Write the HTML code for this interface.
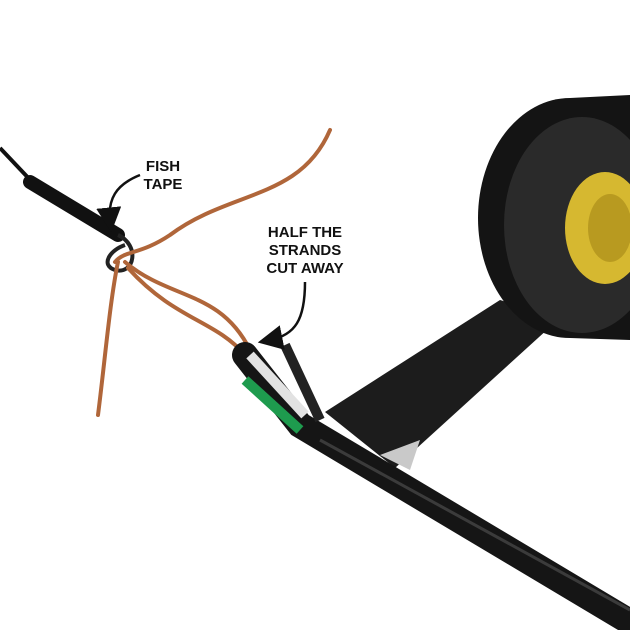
<!DOCTYPE html>
<html><head><meta charset="utf-8"><style>
html,body{margin:0;padding:0;background:#fff;width:630px;height:630px;overflow:hidden}
svg{display:block}
text{font-family:"Liberation Sans",Arial,sans-serif;font-weight:bold;font-size:15px;fill:#111}
</style></head><body>
<svg width="630" height="630" viewBox="0 0 630 630" xmlns="http://www.w3.org/2000/svg">
<defs>
<marker id="ah" markerWidth="10" markerHeight="10" refX="5" refY="5" orient="auto"><path d="M0,0 L10,5 L0,10 z" fill="#111"/></marker>
</defs>
<rect width="630" height="630" fill="#fff"/>
<!-- tape strip -->
<polygon points="325,412 500,300 560,318 395,468" fill="#1c1c1c"/>
<polygon points="380,455 420,440 410,470" fill="#c9c9c9"/>
<!-- tape roll -->
<ellipse cx="570" cy="218" rx="92" ry="120" fill="#141414"/>
<path d="M570,98 L630,95 L630,340 L570,338 z" fill="#141414"/>
<ellipse cx="582" cy="225" rx="78" ry="108" fill="#2a2a2a"/>
<ellipse cx="605" cy="228" rx="40" ry="56" fill="#d6b830"/>
<ellipse cx="610" cy="228" rx="22" ry="34" fill="#b89a20"/>
<!-- fish tape -->
<path d="M0,148 L35,185" stroke="#111" stroke-width="4" fill="none"/>
<path d="M30,182 L118,235" stroke="#111" stroke-width="14" stroke-linecap="round" fill="none"/>
<path d="M118,235 C140,245 135,275 115,270 C100,265 110,250 125,245" stroke="#222" stroke-width="4" fill="none"/>
<!-- copper strands -->
<g stroke="#b0663a" stroke-width="4" fill="none" stroke-linecap="round">
<path d="M330,130 C300,200 230,190 170,235 C140,255 125,250 115,262"/>
<path d="M118,262 C110,300 105,360 98,415"/>
<path d="M125,262 C170,300 220,290 250,350"/>
<path d="M128,268 C175,320 215,320 245,355"/>
</g>
<!-- main cable -->
<path d="M245,355 L300,425 L630,622" stroke="#151515" stroke-width="26" stroke-linecap="round" fill="none"/>
<path d="M320,440 L630,610" stroke="#555" stroke-width="3" fill="none" opacity=".6"/>
<!-- conductors -->
<path d="M245,380 L300,430" stroke="#1e9b4e" stroke-width="10" fill="none"/>
<path d="M250,355 L305,415" stroke="#e2e2e2" stroke-width="10" fill="none"/>
<path d="M285,345 L320,420" stroke="#222" stroke-width="10" fill="none"/>
<!-- labels -->
<text x="163" y="171" text-anchor="middle">FISH</text>
<text x="163" y="189" text-anchor="middle">TAPE</text>
<path d="M140,175 C115,185 108,200 110,220" stroke="#111" stroke-width="2.5" fill="none" marker-end="url(#ah)"/>
<text x="305" y="237" text-anchor="middle">HALF THE</text>
<text x="305" y="255" text-anchor="middle">STRANDS</text>
<text x="305" y="273" text-anchor="middle">CUT AWAY</text>
<path d="M305,282 C305,320 295,335 270,340" stroke="#111" stroke-width="2.5" fill="none" marker-end="url(#ah)"/>
</svg>
</body></html>
